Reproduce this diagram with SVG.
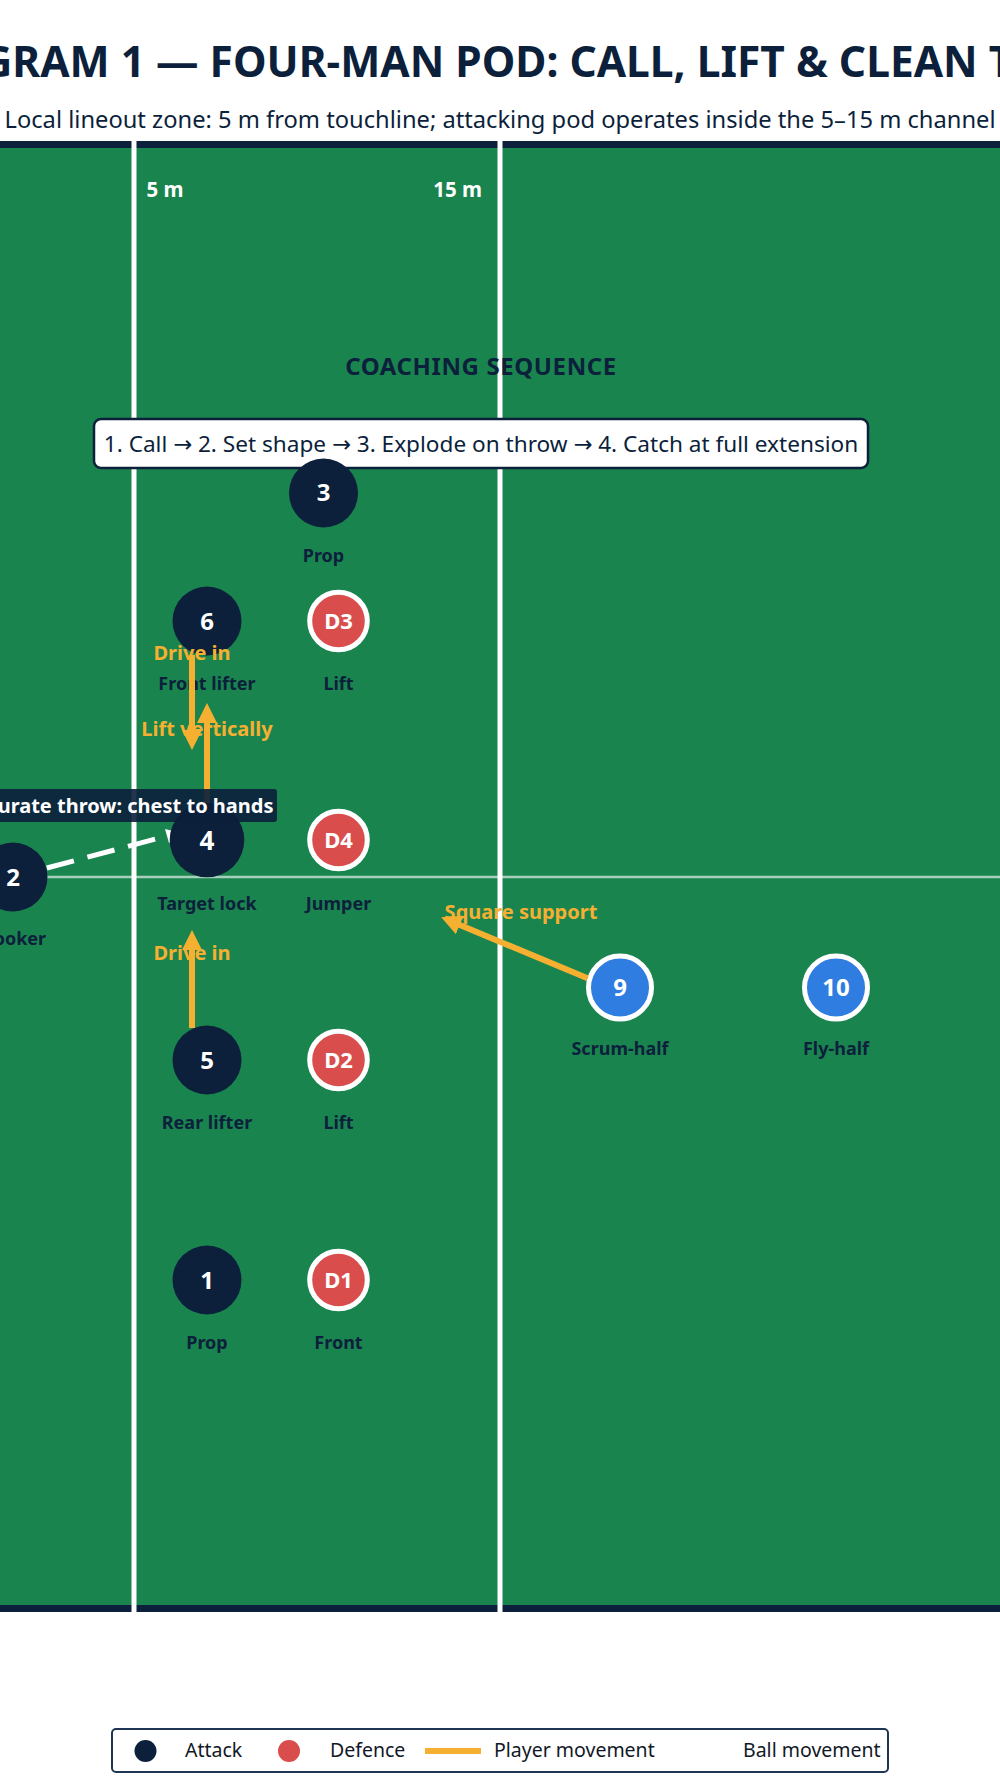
<svg xmlns="http://www.w3.org/2000/svg" width="1000" height="1789" viewBox="0 0 1000 1789">
<style>
text{font-family:"Noto Sans","Open Sans","DejaVu Sans",sans-serif}
.title{font-size:42.5px;font-weight:700;fill:#0c1f3b}
.sub{font-size:23.7px;fill:#0c1f3b}
.mark{font-size:20.5px;font-weight:700;fill:#ffffff}
.head{font-size:24px;font-weight:700;fill:#0c1f3b;letter-spacing:0.6px}
.seq{font-size:22.6px;fill:#0c1f3b}
.att{fill:#0c1f3b}
.def{fill:#d94d4d;stroke:#ffffff;stroke-width:5}
.sup{fill:#2f7de1;stroke:#ffffff;stroke-width:5}
.num{font-size:24px;font-weight:700;fill:#ffffff;text-anchor:middle}
.dnum{font-size:22px;font-weight:700;fill:#ffffff;text-anchor:middle}
.role{font-size:18px;font-weight:700;fill:#0c1f3b;text-anchor:middle}
.mv{font-size:20px;font-weight:700;fill:#f5b031;text-anchor:middle}
.move{stroke:#f5b031;stroke-width:6;fill:none;marker-end:url(#ah)}
.ball{stroke:#ffffff;stroke-width:5;fill:none;stroke-dasharray:28 14}
.tag{font-size:20px;font-weight:700;fill:#ffffff}
.leg{font-size:19.5px;fill:#111827}
</style>
<defs>
<marker id="ah" viewBox="0 0 20 20" refX="14" refY="10" markerWidth="20" markerHeight="20" markerUnits="userSpaceOnUse" orient="auto">
<path d="M0,0 L20,10 L0,20 z" fill="#f5b031"/>
</marker>
</defs>
<rect x="0" y="0" width="1000" height="1789" fill="#ffffff"/>
<text class="title" x="-94.7" y="77">DIAGRAM 1 — FOUR-MAN POD: CALL, LIFT &amp; CLEAN TAKE</text>
<text class="sub" x="500" y="128" text-anchor="middle">Local lineout zone: 5 m from touchline; attacking pod operates inside the 5–15 m channel</text>
<g id="pitch">
<rect x="-10" y="144.5" width="1020" height="1464" fill="#1a844f" stroke="#0c1f3b" stroke-width="7"/>
<line x1="0" y1="877" x2="1000" y2="877" stroke="#ffffff" stroke-opacity="0.62" stroke-width="2.5"/>
<line x1="134" y1="141" x2="134" y2="1612" stroke="#ffffff" stroke-width="5"/>
<line x1="500" y1="141" x2="500" y2="1612" stroke="#ffffff" stroke-width="5"/>
<text class="mark" x="146.5" y="197">5 m</text>
<text class="mark" x="482" y="197" text-anchor="end">15 m</text>
</g>
<g id="sequence">
<text class="head" x="481" y="375" text-anchor="middle">COACHING SEQUENCE</text>
<rect x="94" y="419" width="774" height="49" rx="7" fill="#ffffff" stroke="#0c1f3b" stroke-width="2.5"/>
<text class="seq" x="481" y="452" text-anchor="middle">1. Call → 2. Set shape → 3. Explode on throw → 4. Catch at full extension</text>
</g>
<g id="connectors-ball">
<line class="ball" x1="13" y1="877" x2="167" y2="836" stroke-dashoffset="7"/>
<polygon points="165,829 169,843 181,833" fill="#ffffff"/>
</g>
<g id="node-3"><circle class="att" cx="323.5" cy="493" r="34.5"/><text class="num" x="323.5" y="501">3</text><text class="role" x="323.5" y="562">Prop</text></g>
<g id="node-6"><circle class="att" cx="207" cy="621" r="34.5"/><text class="num" x="207" y="629.5">6</text><text class="role" x="207" y="690">Front lifter</text></g>
<g id="node-D3"><circle class="def" cx="338.5" cy="621" r="28.8"/><text class="dnum" x="338.5" y="628.5">D3</text><text class="role" x="338.5" y="690">Lift</text></g>
<g id="node-2"><circle class="att" cx="13" cy="877" r="34.5"/><text class="num" x="13" y="885.5">2</text><text class="role" x="13" y="945">Hooker</text></g>
<g id="node-4"><circle class="att" cx="207" cy="840" r="37.3"/><text class="num" x="207" y="849.5" style="font-size:26px">4</text><text class="role" x="207" y="910">Target lock</text></g>
<g id="node-D4"><circle class="def" cx="338.5" cy="840" r="28.8"/><text class="dnum" x="338.5" y="847.5">D4</text><text class="role" x="338.5" y="910">Jumper</text></g>
<g id="node-5"><circle class="att" cx="207" cy="1060" r="34.5"/><text class="num" x="207" y="1068.5">5</text><text class="role" x="207" y="1129">Rear lifter</text></g>
<g id="node-D2"><circle class="def" cx="338.5" cy="1060" r="28.8"/><text class="dnum" x="338.5" y="1067.5">D2</text><text class="role" x="338.5" y="1129">Lift</text></g>
<g id="node-1"><circle class="att" cx="207" cy="1280" r="34.5"/><text class="num" x="207" y="1288.5">1</text><text class="role" x="207" y="1349">Prop</text></g>
<g id="node-D1"><circle class="def" cx="338.5" cy="1280" r="28.8"/><text class="dnum" x="338.5" y="1287.5">D1</text><text class="role" x="338.5" y="1349">Front</text></g>
<g id="node-9"><circle class="sup" cx="620" cy="987.5" r="31.5"/><text class="num" x="620" y="996">9</text><text class="role" x="620" y="1055">Scrum-half</text></g>
<g id="node-10"><circle class="sup" cx="836" cy="987.5" r="31.5"/><text class="num" x="836" y="996">10</text><text class="role" x="836" y="1055">Fly-half</text></g>
<g id="movement-labels">
<text class="mv" x="192" y="660">Drive in</text>
<text class="mv" x="207" y="736">Lift vertically</text>
<text class="mv" x="192" y="960">Drive in</text>
<text class="mv" x="521" y="919">Square support</text>
</g>
<g id="connectors">
<line class="move" x1="192" y1="655" x2="192" y2="744"/>
<line class="move" x1="207" y1="803" x2="207" y2="709"/>
<line class="move" x1="192" y1="1028" x2="192" y2="936"/>
<line class="move" x1="587.6" y1="978.3" x2="446.8" y2="919.6"/>
</g>
<g id="throw-label">
<rect x="-45" y="789" width="322" height="33" rx="3" fill="#0c1f3b" fill-opacity="0.9"/>
<text class="tag" x="273.5" y="812.5" text-anchor="end">Accurate throw: chest to hands</text>
</g>
<g id="legend">
<rect x="112" y="1729" width="776" height="43" rx="4" fill="#ffffff" stroke="#1e3553" stroke-width="2"/>
<circle cx="145.5" cy="1751" r="11" fill="#0c1f3b"/>
<text class="leg" x="185" y="1757">Attack</text>
<circle cx="289" cy="1751" r="11" fill="#d94d4d"/>
<text class="leg" x="330" y="1757">Defence</text>
<line x1="425" y1="1751" x2="481" y2="1751" stroke="#f5b031" stroke-width="6"/>
<text class="leg" x="494" y="1757">Player movement</text>
<line x1="672" y1="1751" x2="728" y2="1751" stroke="#ffffff" stroke-width="4" stroke-dasharray="10 6"/>
<text class="leg" x="743" y="1757">Ball movement</text>
</g>
</svg>
